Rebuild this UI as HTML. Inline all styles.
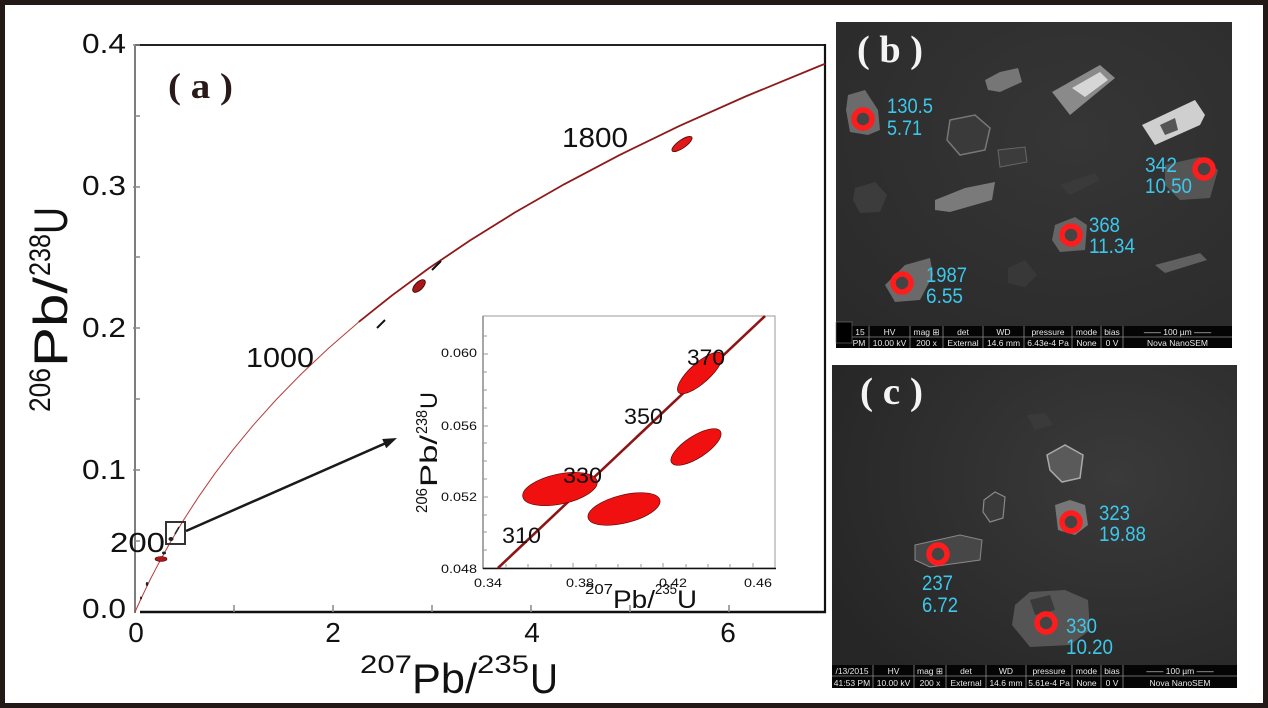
<!DOCTYPE html>
<html>
<head>
<meta charset="utf-8">
<style>
  html,body{margin:0;padding:0;background:#fff;}
  svg{display:block;}
  .sans{font-family:"Liberation Sans",Arial,sans-serif;}
  .serif{font-family:"Liberation Serif","Times New Roman",serif;}
</style>
</head>
<body>
<svg width="1268" height="708" viewBox="0 0 1268 708" xmlns="http://www.w3.org/2000/svg">
  <defs>
    <radialGradient id="gb" cx="0.6" cy="0.35" r="0.8">
      <stop offset="0" stop-color="#363636"/>
      <stop offset="1" stop-color="#2a2a2a"/>
    </radialGradient>
    <radialGradient id="gc" cx="0.7" cy="0.35" r="0.8">
      <stop offset="0" stop-color="#3a3a3a"/>
      <stop offset="1" stop-color="#262626"/>
    </radialGradient>
  </defs>
  <rect x="0" y="0" width="1268" height="708" fill="#fff"/>

  <!-- ================= MAIN PLOT (a) ================= -->
  <!-- frame -->
  <line x1="135" y1="45" x2="825" y2="45" stroke="#222" stroke-width="2"/>
  <line x1="825" y1="44" x2="825" y2="613" stroke="#111" stroke-width="2.2"/>
  <line x1="140" y1="612" x2="826" y2="612" stroke="#111" stroke-width="2.6"/>
  <line x1="135" y1="45" x2="135" y2="613" stroke="#7d7d7d" stroke-width="2"/>
  <!-- y ticks -->
  <g stroke="#888" stroke-width="1.5">
    <line x1="133" y1="45" x2="140" y2="45"/>
    <line x1="135" y1="116" x2="140" y2="116"/>
    <line x1="133" y1="187" x2="140" y2="187"/>
    <line x1="135" y1="257" x2="140" y2="257"/>
    <line x1="133" y1="328" x2="140" y2="328"/>
    <line x1="135" y1="399" x2="140" y2="399"/>
    <line x1="133" y1="470" x2="140" y2="470"/>
    <line x1="135" y1="541" x2="140" y2="541"/>
  </g>
  <!-- x ticks -->
  <g stroke="#888" stroke-width="1.5">
    <line x1="234" y1="612" x2="234" y2="605"/>
    <line x1="333" y1="612" x2="333" y2="605"/>
    <line x1="432" y1="612" x2="432" y2="605"/>
    <line x1="531" y1="612" x2="531" y2="605"/>
    <line x1="630" y1="612" x2="630" y2="605"/>
    <line x1="729" y1="612" x2="729" y2="605"/>
  </g>
  <!-- y tick labels -->
  <g class="sans" font-size="28" fill="#111">
    <text x="82" y="53" textLength="44" lengthAdjust="spacingAndGlyphs">0.4</text>
    <text x="82" y="195" textLength="44" lengthAdjust="spacingAndGlyphs">0.3</text>
    <text x="82" y="337" textLength="44" lengthAdjust="spacingAndGlyphs">0.2</text>
    <text x="82" y="479" textLength="44" lengthAdjust="spacingAndGlyphs">0.1</text>
    <text x="82" y="618" textLength="44" lengthAdjust="spacingAndGlyphs">0.0</text>
  </g>
  <!-- x tick labels -->
  <g class="sans" font-size="28" fill="#111" text-anchor="middle">
    <text x="136" y="642">0</text>
    <text x="333" y="642">2</text>
    <text x="532" y="642">4</text>
    <text x="728" y="642">6</text>
  </g>
  <!-- x axis title -->
  <g class="sans" fill="#111">
    <text x="360" y="673" font-size="25" textLength="52" lengthAdjust="spacingAndGlyphs">207</text>
    <text x="412" y="693" font-size="42" textLength="65" lengthAdjust="spacingAndGlyphs">Pb/</text>
    <text x="477" y="673" font-size="25" textLength="52" lengthAdjust="spacingAndGlyphs">235</text>
    <text x="530" y="693" font-size="42" textLength="28" lengthAdjust="spacingAndGlyphs">U</text>
  </g>
  <!-- y axis title -->
  <g class="sans" fill="#111" transform="translate(67,412) rotate(-90)">
    <text x="0" y="-17" font-size="30" textLength="44" lengthAdjust="spacingAndGlyphs">206</text>
    <text x="45" y="0" font-size="47" textLength="90" lengthAdjust="spacingAndGlyphs">Pb/</text>
    <text x="136" y="-17" font-size="30" textLength="42" lengthAdjust="spacingAndGlyphs">238</text>
    <text x="178" y="0" font-size="47" textLength="27" lengthAdjust="spacingAndGlyphs">U</text>
  </g>

  <!-- concordia curve -->
  <polyline fill="none" stroke="#b83a3a" stroke-width="1"
    points="135,612 140,601 145.25,589.84 150.8,578.4 156.55,567.33 169.03,544.47 182.8,521.26 197.99,497.68 214.75,473.73 233.26,449.41 253.68,424.69 276.21,399.62 301.06,374.11 328.51,348.25 358.76,321.97"/>
  <polyline fill="none" stroke="#8e1a1a" stroke-width="1.8"
    points="358.76,321.97 392.16,295.29 429.03,268.16 469.73,240.63 514.61,212.63 564.14,184.28 618.82,155.41 679.11,126.09 745.72,96.37 819.15,66.12 825,63.8"/>

  <!-- age labels -->
  <g class="sans" font-size="28" fill="#111">
    <text x="246" y="367" textLength="68" lengthAdjust="spacingAndGlyphs">1000</text>
    <text x="562" y="147" textLength="66" lengthAdjust="spacingAndGlyphs">1800</text>
    <text x="110" y="552" textLength="55" lengthAdjust="spacingAndGlyphs">200</text>
  </g>

  <!-- data ellipses main -->
  <ellipse cx="682" cy="144" rx="12" ry="4" transform="rotate(-35 682 144)" fill="#e01818" stroke="#4a0a0a" stroke-width="0.8"/>
  <ellipse cx="419" cy="286" rx="8" ry="4" transform="rotate(-45 419 286)" fill="#a81818" stroke="#300" stroke-width="0.8"/>
  <line x1="432" y1="270" x2="441" y2="261" stroke="#111" stroke-width="2"/>
  <line x1="377" y1="328" x2="385" y2="320" stroke="#111" stroke-width="2"/>
  <ellipse cx="161" cy="559" rx="6" ry="2.5" fill="#b01818" stroke="#400" stroke-width="0.6"/>
  <ellipse cx="164" cy="553" rx="2" ry="1.5" fill="#222"/>
  <ellipse cx="171" cy="539" rx="2.5" ry="2" fill="#222"/>
  <line x1="175" y1="534" x2="179" y2="527" stroke="#222" stroke-width="1.5"/>
  <ellipse cx="147" cy="584" rx="1.2" ry="2" fill="#222"/>
  <ellipse cx="141" cy="598" rx="1" ry="1.5" fill="#222"/>

  <!-- box and arrow -->
  <rect x="166" y="522" width="19" height="22" fill="none" stroke="#333" stroke-width="2"/>
  <line x1="186" y1="531" x2="386" y2="443" stroke="#1a1a1a" stroke-width="2.5"/>
  <polygon points="397,438 386.2,448.2 382.2,439" fill="#1a1a1a"/>

  <!-- (a) -->
  <text x="168" y="98" class="serif" font-size="36" font-weight="bold" fill="#2a1a1a" textLength="65" lengthAdjust="spacingAndGlyphs">( a )</text>

  <!-- ================= INSET ================= -->
  <rect x="483" y="316" width="292" height="252" fill="#fff" stroke="#9a9a9a" stroke-width="1"/>
  <line x1="483" y1="316" x2="483" y2="569" stroke="#8a8a8a" stroke-width="1.5"/>
  <line x1="483" y1="568.5" x2="776" y2="568.5" stroke="#111" stroke-width="1.5"/>
  <g stroke="#999" stroke-width="1">
    <line x1="483" y1="550" x2="487" y2="550"/>
    <line x1="483" y1="532" x2="487" y2="532"/>
    <line x1="483" y1="515" x2="487" y2="515"/>
    <line x1="483" y1="497" x2="488" y2="497"/>
    <line x1="483" y1="479" x2="487" y2="479"/>
    <line x1="483" y1="461" x2="487" y2="461"/>
    <line x1="483" y1="443" x2="487" y2="443"/>
    <line x1="483" y1="426" x2="488" y2="426"/>
    <line x1="483" y1="408" x2="487" y2="408"/>
    <line x1="483" y1="390" x2="487" y2="390"/>
    <line x1="483" y1="372" x2="487" y2="372"/>
    <line x1="483" y1="354" x2="488" y2="354"/>
    <line x1="483" y1="336" x2="487" y2="336"/>
    <line x1="506" y1="568" x2="506" y2="564"/>
    <line x1="528" y1="568" x2="528" y2="564"/>
    <line x1="551" y1="568" x2="551" y2="564"/>
    <line x1="573" y1="568" x2="573" y2="563"/>
    <line x1="596" y1="568" x2="596" y2="564"/>
    <line x1="618" y1="568" x2="618" y2="564"/>
    <line x1="641" y1="568" x2="641" y2="564"/>
    <line x1="663" y1="568" x2="663" y2="563"/>
    <line x1="686" y1="568" x2="686" y2="564"/>
    <line x1="708" y1="568" x2="708" y2="564"/>
    <line x1="730" y1="568" x2="730" y2="564"/>
    <line x1="753" y1="568" x2="753" y2="563"/>
  </g>
  <!-- inset tick labels -->
  <g class="sans" font-size="12" fill="#111">
    <text x="441" y="357" textLength="36" lengthAdjust="spacingAndGlyphs">0.060</text>
    <text x="441" y="430" textLength="36" lengthAdjust="spacingAndGlyphs">0.056</text>
    <text x="441" y="501" textLength="36" lengthAdjust="spacingAndGlyphs">0.052</text>
    <text x="441" y="573" textLength="36" lengthAdjust="spacingAndGlyphs">0.048</text>
    <text x="474" y="587" textLength="28" lengthAdjust="spacingAndGlyphs">0.34</text>
    <text x="566" y="587" textLength="28" lengthAdjust="spacingAndGlyphs">0.38</text>
    <text x="659" y="587" textLength="28" lengthAdjust="spacingAndGlyphs">0.42</text>
    <text x="744" y="587" textLength="28" lengthAdjust="spacingAndGlyphs">0.46</text>
  </g>
  <!-- inset axis titles -->
  <g class="sans" fill="#111">
    <text x="585" y="594" font-size="15" textLength="28" lengthAdjust="spacingAndGlyphs">207</text>
    <text x="613" y="608" font-size="25" textLength="42" lengthAdjust="spacingAndGlyphs">Pb/</text>
    <text x="655" y="594" font-size="15" textLength="22" lengthAdjust="spacingAndGlyphs">235</text>
    <text x="677" y="608" font-size="25" textLength="20" lengthAdjust="spacingAndGlyphs">U</text>
  </g>
  <g class="sans" fill="#111" transform="translate(437,513) rotate(-90)">
    <text x="0" y="-10" font-size="16" textLength="25" lengthAdjust="spacingAndGlyphs">206</text>
    <text x="26" y="0" font-size="24" textLength="52" lengthAdjust="spacingAndGlyphs">Pb/</text>
    <text x="79" y="-10" font-size="16" textLength="24" lengthAdjust="spacingAndGlyphs">238</text>
    <text x="104" y="0" font-size="24" textLength="17" lengthAdjust="spacingAndGlyphs">U</text>
  </g>
  <!-- inset concordia -->
  <line x1="498" y1="568" x2="765" y2="316" stroke="#8e1515" stroke-width="2.6"/>
  <!-- inset ellipses -->
  <g fill="#f01010" stroke="#5a0a0a" stroke-width="0.7">
    <ellipse cx="560" cy="489" rx="38" ry="15" transform="rotate(-12 560 489)"/>
    <ellipse cx="624" cy="509" rx="37" ry="14" transform="rotate(-14 624 509)"/>
    <ellipse cx="700" cy="373" rx="29" ry="10" transform="rotate(-42 700 373)"/>
    <ellipse cx="696" cy="447" rx="29" ry="11" transform="rotate(-33 696 447)"/>
  </g>
  <g class="sans" font-size="22" fill="#111">
    <text x="502" y="543" textLength="39" lengthAdjust="spacingAndGlyphs">310</text>
    <text x="563" y="483" textLength="39" lengthAdjust="spacingAndGlyphs">330</text>
    <text x="624" y="424" textLength="39" lengthAdjust="spacingAndGlyphs">350</text>
    <text x="687" y="365" textLength="38" lengthAdjust="spacingAndGlyphs">370</text>
  </g>

  <!-- ================= PANEL (b) ================= -->
  <rect x="836" y="22" width="396" height="326" fill="url(#gb)"/>
  <g stroke="none">
    <polygon points="848,95 865,90 878,110 880,130 868,135 850,132 846,110" fill="#6b6b6b"/>
    <polygon points="950,120 975,115 990,128 985,150 960,155 947,140" fill="#3a3a3a" stroke="#777" stroke-width="1.5"/>
    <polygon points="985,80 1000,72 1018,68 1022,82 1000,92 988,90" fill="#767676"/>
    <polygon points="1052,92 1100,65 1115,78 1070,115" fill="#8a8a8a"/>
    <polygon points="1072,88 1100,72 1108,80 1085,97" fill="#d6d6d6"/>
    <polygon points="1142,125 1195,100 1205,115 1200,125 1155,145" fill="#cfcfcf"/>
    <polygon points="1160,125 1175,118 1178,130 1165,135" fill="#555"/>
    <polygon points="998,150 1025,147 1027,162 1000,167" fill="#3c3c3c" stroke="#666" stroke-width="1"/>
    <polygon points="935,200 965,188 995,182 992,200 950,212 935,210" fill="#7a7a7a"/>
    <polygon points="855,188 875,182 887,195 880,212 860,213 853,200" fill="#3c3c3c"/>
    <polygon points="1060,185 1095,173 1100,180 1070,195" fill="#3a3a3a"/>
    <polygon points="1165,165 1200,157 1218,170 1210,198 1180,200 1165,185" fill="#555"/>
    <polygon points="1055,225 1075,217 1087,225 1085,250 1060,252 1052,240" fill="#656565"/>
    <polygon points="885,285 905,265 930,258 933,275 920,300 895,302" fill="#6a6a6a"/>
    <polygon points="1155,265 1200,253 1207,260 1165,273" fill="#606060"/>
    <polygon points="1008,268 1025,260 1037,275 1025,287 1008,283" fill="#383838"/>
  </g>
  <g fill="#444" stroke="#ff1c1c" stroke-width="5.5">
    <circle cx="863" cy="119" r="9"/>
    <circle cx="1204" cy="169" r="9"/>
    <circle cx="1071" cy="235" r="9"/>
    <circle cx="902" cy="283" r="9"/>
  </g>
  <g class="sans" font-size="21" fill="#3cc6ea">
    <text x="887" y="113" textLength="46" lengthAdjust="spacingAndGlyphs">130.5</text>
    <text x="887" y="135" textLength="35" lengthAdjust="spacingAndGlyphs">5.71</text>
    <text x="1145" y="172" textLength="32" lengthAdjust="spacingAndGlyphs">342</text>
    <text x="1145" y="193" textLength="47" lengthAdjust="spacingAndGlyphs">10.50</text>
    <text x="1089" y="232" textLength="31" lengthAdjust="spacingAndGlyphs">368</text>
    <text x="1089" y="253" textLength="46" lengthAdjust="spacingAndGlyphs">11.34</text>
    <text x="926" y="282" textLength="41" lengthAdjust="spacingAndGlyphs">1987</text>
    <text x="926" y="303" textLength="37" lengthAdjust="spacingAndGlyphs">6.55</text>
  </g>
  <text x="857" y="62" class="serif" font-size="38" font-weight="bold" fill="#f4f4f4" textLength="66" lengthAdjust="spacingAndGlyphs">( b )</text>
  <!-- info bar b -->
  <rect x="836" y="326" width="396" height="22" fill="#050505"/>
  <g stroke="#8a8a8a" stroke-width="0.8">
    <line x1="836" y1="337" x2="1123" y2="337"/>
    <line x1="1123" y1="337" x2="1232" y2="337"/>
    <line x1="869" y1="326" x2="869" y2="348"/>
    <line x1="910" y1="326" x2="910" y2="348"/>
    <line x1="943" y1="326" x2="943" y2="348"/>
    <line x1="983" y1="326" x2="983" y2="348"/>
    <line x1="1024" y1="326" x2="1024" y2="348"/>
    <line x1="1072" y1="326" x2="1072" y2="348"/>
    <line x1="1101" y1="326" x2="1101" y2="348"/>
    <line x1="1123" y1="326" x2="1123" y2="348"/>
  </g>
  <rect x="836" y="322" width="16" height="21" fill="#000" stroke="#777" stroke-width="0.6"/>
  <g class="sans" font-size="8.5" fill="#e6e6e6" text-anchor="middle">
    <text x="860" y="335">15</text>
    <text x="889.5" y="335">HV</text>
    <text x="926.5" y="335">mag ⊞</text>
    <text x="963" y="335">det</text>
    <text x="1003.5" y="335">WD</text>
    <text x="1048" y="335">pressure</text>
    <text x="1086.5" y="335">mode</text>
    <text x="1112" y="335">bias</text>
    <text x="1177.5" y="335">—— 100 µm ——</text>
    <text x="859" y="346">PM</text>
    <text x="889.5" y="346">10.00 kV</text>
    <text x="926.5" y="346">200 x</text>
    <text x="963" y="346">External</text>
    <text x="1003.5" y="346">14.6 mm</text>
    <text x="1048" y="346">6.43e-4 Pa</text>
    <text x="1086.5" y="346">None</text>
    <text x="1112" y="346">0 V</text>
    <text x="1177.5" y="346">Nova NanoSEM</text>
  </g>

  <!-- ================= PANEL (c) ================= -->
  <rect x="832" y="365" width="405" height="323" fill="url(#gc)"/>
  <g stroke="none">
    <polygon points="1047,455 1065,445 1083,455 1080,478 1062,482 1050,470" fill="#5a5a5a" stroke="#aaa" stroke-width="1.5"/>
    <polygon points="1027,415 1045,413 1053,425 1035,430" fill="#3a3a3a"/>
    <polygon points="984,500 995,492 1005,497 1003,518 990,522 983,512" fill="#3a3a3a" stroke="#888" stroke-width="1.2"/>
    <polygon points="1055,505 1070,500 1085,505 1088,525 1075,535 1058,530" fill="#777"/>
    <polygon points="915,545 960,535 982,540 980,560 930,567 915,560" fill="#474747" stroke="#888" stroke-width="1"/>
    <polygon points="1015,605 1030,592 1065,590 1088,600 1090,630 1070,645 1030,647 1012,625" fill="#555"/>
    <polygon points="1030,600 1050,595 1055,610 1035,615" fill="#3a3a3a"/>
  </g>
  <g fill="#444" stroke="#ff1c1c" stroke-width="5.5">
    <circle cx="1071" cy="522" r="9"/>
    <circle cx="938" cy="554" r="9"/>
    <circle cx="1046" cy="623" r="9"/>
  </g>
  <g class="sans" font-size="21" fill="#3cc6ea">
    <text x="1099" y="520" textLength="31" lengthAdjust="spacingAndGlyphs">323</text>
    <text x="1099" y="541" textLength="47" lengthAdjust="spacingAndGlyphs">19.88</text>
    <text x="922" y="590" textLength="31" lengthAdjust="spacingAndGlyphs">237</text>
    <text x="922" y="612" textLength="36" lengthAdjust="spacingAndGlyphs">6.72</text>
    <text x="1066" y="633" textLength="31" lengthAdjust="spacingAndGlyphs">330</text>
    <text x="1066" y="654" textLength="47" lengthAdjust="spacingAndGlyphs">10.20</text>
  </g>
  <text x="860" y="404" class="serif" font-size="38" font-weight="bold" fill="#f4f4f4" textLength="63" lengthAdjust="spacingAndGlyphs">( c )</text>
  <!-- info bar c -->
  <rect x="832" y="665" width="405" height="23" fill="#050505"/>
  <g stroke="#8a8a8a" stroke-width="0.8">
    <line x1="832" y1="676" x2="1237" y2="676"/>
    <line x1="873" y1="665" x2="873" y2="688"/>
    <line x1="914" y1="665" x2="914" y2="688"/>
    <line x1="946" y1="665" x2="946" y2="688"/>
    <line x1="986" y1="665" x2="986" y2="688"/>
    <line x1="1026" y1="665" x2="1026" y2="688"/>
    <line x1="1072" y1="665" x2="1072" y2="688"/>
    <line x1="1101" y1="665" x2="1101" y2="688"/>
    <line x1="1123" y1="665" x2="1123" y2="688"/>
  </g>
  <g class="sans" font-size="8.5" fill="#e6e6e6" text-anchor="middle">
    <text x="852" y="674">/13/2015</text>
    <text x="893.5" y="674">HV</text>
    <text x="930" y="674">mag ⊞</text>
    <text x="966" y="674">det</text>
    <text x="1006" y="674">WD</text>
    <text x="1049" y="674">pressure</text>
    <text x="1086.5" y="674">mode</text>
    <text x="1112" y="674">bias</text>
    <text x="1180" y="674">—— 100 µm ——</text>
    <text x="852" y="686">41:53 PM</text>
    <text x="893.5" y="686">10.00 kV</text>
    <text x="930" y="686">200 x</text>
    <text x="966" y="686">External</text>
    <text x="1006" y="686">14.6 mm</text>
    <text x="1049" y="686">5.61e-4 Pa</text>
    <text x="1086.5" y="686">None</text>
    <text x="1112" y="686">0 V</text>
    <text x="1180" y="686">Nova NanoSEM</text>
  </g>

  <!-- outer border -->
  <rect x="2.5" y="2.5" width="1263" height="703" fill="none" stroke="#231a17" stroke-width="5"/>
</svg>
</body>
</html>
